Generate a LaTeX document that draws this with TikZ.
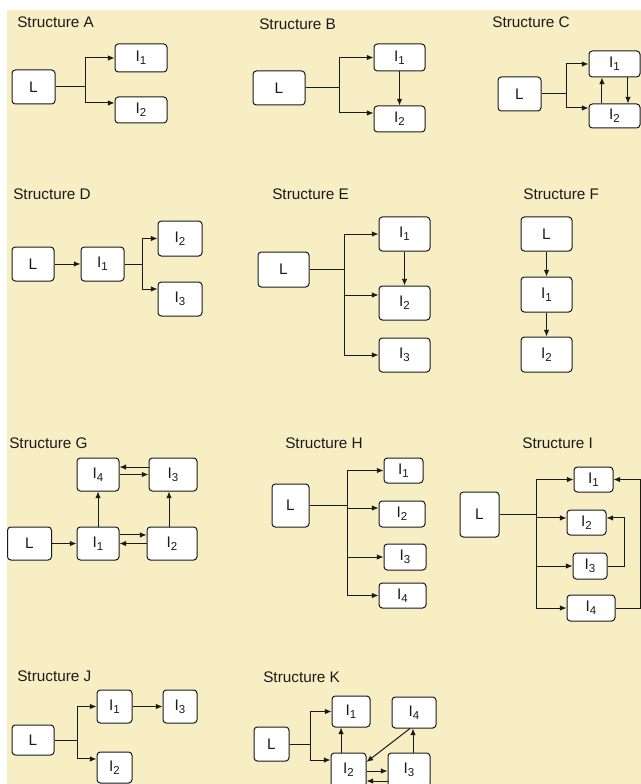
\documentclass[tikz,border=0pt]{standalone}
\usepackage{fontspec}
\setmainfont{Liberation Sans}
\usetikzlibrary{arrows.meta}
\definecolor{panel}{HTML}{F8EEC4}
\definecolor{ink}{HTML}{1A1A1A}
\newcommand\Isub[1]{I\raisebox{-0.35ex}{\fontsize{8.6}{9}\selectfont #1}}
\begin{document}
\begin{tikzpicture}[x=0.75pt,y=-0.75pt,
  every node/.style={font=\fontsize{11.5}{13}\selectfont, text=ink},
  box/.style={draw=ink, fill=white, rounded corners=2.5pt, line width=0.75pt, inner sep=0pt},
  bx/.style 2 args={box, minimum width=#1*0.75pt, minimum height=#2*0.75pt},
  ttl/.style={anchor=west, inner sep=0pt},
  arr/.style={draw=ink, line width=0.75pt, -{Latex[length=5pt,width=4.2pt]}},
  ln/.style={draw=ink, line width=0.75pt}]
\useasboundingbox (0,0) rectangle (641,784);
\clip (0,0) rectangle (641,784);
\fill[white] (0,0) rectangle (641,784);
\fill[panel] (7,10) rectangle (641,784);

% ---- Structure A
\node[ttl] (tA) at (17,22) {Structure A};
\node[bx={43}{34}] (aL) at (33.5,87) {L};
\node[bx={52}{28}] (a1) at (141,58) {\Isub1};
\node[bx={52}{26}] (a2) at (141,110) {\Isub2};
\coordinate (aJ) at (85,87);
\draw[ln] (aL.east) -- (aJ);
\draw[arr] (aJ) |- (a1.west);
\draw[arr] (aJ) |- ([yshift=5.25pt]a2.west);

% ---- Structure B
\node[ttl] (tB) at (259,24) {Structure B};
\node[bx={52}{34}] (bL) at (279,88) {L};
\node[bx={51}{27}] (b1) at (399.5,57.5) {\Isub1};
\node[bx={51}{26}] (b2) at (399.5,119) {\Isub2};
\coordinate (bJ) at (339,88);
\draw[ln] (bL.east) -- (bJ);
\draw[arr] (bJ) |- (b1.west);
\draw[arr] (bJ) |- ([yshift=4.5pt]b2.west);
\draw[arr] (b1.south) -- (b2.north);

% ---- Structure C
\node[ttl] (tC) at (492,22) {Structure C};
\node[bx={43}{34}] (cL) at (519.5,94) {L};
\node[bx={51}{26}] (c1) at (614.5,64) {\Isub1};
\node[bx={51}{24}] (c2) at (614.5,116) {\Isub2};
\coordinate (cJ) at (566,94);
\draw[ln] (cL.east) -- (cJ);
\draw[arr] (cJ) |- (c1.west);
\draw[arr] (cJ) |- ([yshift=6pt]c2.west);
\draw[arr] ([xshift=-9.4pt]c2.north) -- ([xshift=-9.4pt]c1.south);
\draw[arr] ([xshift=10.1pt]c1.south) -- ([xshift=10.1pt]c2.north);

% ---- Structure D
\node[ttl] (tD) at (13,194) {Structure D};
\node[bx={42}{34}] (dL) at (33,264) {L};
\node[bx={43}{34}] (d1) at (102.5,264) {\Isub1};
\node[bx={44}{35}] (d2) at (180,238.5) {\Isub2};
\node[bx={44}{34}] (d3) at (180,299) {\Isub3};
\coordinate (dJ) at (142,264);
\draw[arr] (dL.east) -- (d1.west);
\draw[ln] (d1.east) -- (dJ);
\draw[arr] (dJ) |- (d2.west);
\draw[arr] (dJ) |- ([yshift=7.5pt]d3.west);

% ---- Structure E
\node[ttl] (tE) at (272,194) {Structure E};
\node[bx={51}{35}] (eL) at (283.5,269.5) {L};
\node[bx={51}{34}] (e1) at (404.5,234) {\Isub1};
\node[bx={51}{34}] (e2) at (404.5,303) {\Isub2};
\node[bx={51}{34}] (e3) at (404.5,355) {\Isub3};
\coordinate (eJ) at (344,269.5);
\draw[ln] (eL.east) -- (eJ);
\draw[arr] (eJ) |- (e1.west);
\draw[arr] (eJ) |- ([yshift=6pt]e2.west);
\draw[arr] (eJ) |- (e3.west);
\draw[arr] (e1.south) -- (e2.north);

% ---- Structure F
\node[ttl] (tF) at (523,194) {Structure F};
\node[bx={51}{34}] (fL) at (546.5,234) {L};
\node[bx={51}{35}] (f1) at (546.5,294.5) {\Isub1};
\node[bx={51}{35}] (f2) at (546.5,354.5) {\Isub2};
\draw[arr] (fL.south) -- (f1.north);
\draw[arr] (f1.south) -- (f2.north);

% ---- Structure G
\node[ttl] (tG) at (9,443) {Structure G};
\node[bx={44}{33}] (gL) at (29.5,543.5) {L};
\node[bx={42}{33}] (g1) at (98,543.5) {\Isub1};
\node[bx={50}{33}] (g2) at (172,543.5) {\Isub2};
\node[bx={42}{33}] (g4) at (98,474.5) {\Isub4};
\node[bx={48}{33}] (g3) at (173,474.5) {\Isub3};
\draw[arr] (gL.east) -- (g1.west);
\draw[arr] ([yshift=6.4pt]g1.east) -- ([yshift=6.4pt]g2.west);
\draw[arr] (g2.west) -- (g1.east);
\draw[arr] (g4.east) -- (g3.west);
\draw[arr] ([yshift=5.6pt]g3.west) -- ([yshift=5.6pt]g4.east);
\draw[arr] (g1.north) -- (g4.south);
\draw[arr] ([xshift=-2.25pt]g2.north) -- ([xshift=-2.25pt]g2.north |- g3.south);

% ---- Structure H
\node[ttl] (tH) at (285,443) {Structure H};
\node[bx={37}{43}] (hL) at (290.5,505.5) {L};
\node[bx={39}{25}] (h1) at (403.5,470.5) {\Isub1};
\node[bx={46}{26}] (h2) at (402,514) {\Isub2};
\node[bx={42}{26}] (h3) at (405,557) {\Isub3};
\node[bx={47}{25}] (h4) at (402.5,595.5) {\Isub4};
\coordinate (hJ) at (347,505.5);
\draw[ln] (hL.east) -- (hJ);
\draw[arr] (hJ) |- (h1.west);
\draw[arr] (hJ) |- ([yshift=4.5pt]h2.west);
\draw[arr] (hJ) |- (h3.west);
\draw[arr] (hJ) |- (h4.west);

% ---- Structure I
\node[ttl] (tI) at (522,443) {Structure I};
\node[bx={39}{45}] (iL) at (479.5,514.5) {L};
\node[bx={39}{25}] (i1) at (593.5,479.5) {\Isub1};
\node[bx={39}{25}] (i2) at (586.5,522.5) {\Isub2};
\node[bx={34}{26}] (i3) at (590,566) {\Isub3};
\node[bx={48}{26}] (i4) at (591,608) {\Isub4};
\coordinate (iJ) at (536,514.5);
\draw[ln] (iL.east) -- (iJ);
\draw[arr] (iJ) |- (i1.west);
\draw[arr] (iJ) |- ([yshift=3.4pt]i2.west);
\draw[arr] (iJ) |- (i3.west);
\draw[arr] (iJ) |- (i4.west);
\draw[arr] (i4.east) -- ++(25,0) |- (i1.east);
\draw[arr] (i3.east) -- ++(17,0) |- ([yshift=3.4pt]i2.east);

% ---- Structure J
\node[ttl] (tJ) at (17,676) {Structure J};
\node[bx={42}{30}] (jL) at (33,740) {L};
\node[bx={35}{33}] (j1) at (114.5,706.5) {\Isub1};
\node[bx={34}{33}] (j3) at (180,706.5) {\Isub3};
\node[bx={35}{31}] (j2) at (114.5,767.5) {\Isub2};
\coordinate (jJ) at (77,740);
\draw[ln] (jL.east) -- (jJ);
\draw[arr] (jJ) |- (j1.west);
\draw[arr] (jJ) |- ([yshift=6.4pt]j2.west);
\draw[arr] (j1.east) -- (j3.west);

% ---- Structure K
\node[ttl] (tK) at (263,677) {Structure K};
\node[bx={35}{34}] (kL) at (271.5,744) {L};
\node[bx={38}{31}] (k1) at (351,711.5) {\Isub1};
\node[bx={44}{31}] (k4) at (414,712.5) {\Isub4};
\node[bx={35}{34}] (k2) at (348.5,770) {\Isub2};
\node[bx={42}{34}] (k3) at (409,770) {\Isub3};
\coordinate (kJ) at (310,744);
\draw[ln] (kL.east) -- (kJ);
\draw[arr] (kJ) |- (k1.west);
\draw[arr] (kJ) |- ([yshift=7.5pt]k2.west);
\draw[arr] ([xshift=-5.6pt]k2.north) -- ([xshift=-5.6pt]k2.north |- k1.south);
\draw[arr] ([xshift=3pt]k3.north) -- ([xshift=3pt]k3.north |- k4.south);
\draw[arr] ([xshift=-3pt]k4.south) -- ([yshift=6pt]k2.east);
\draw[arr] ([yshift=-0.75pt]k2.east) -- ([yshift=-0.75pt]k3.west);
\draw[arr] ([yshift=-8.25pt]k3.west) -- ([yshift=-8.25pt]k2.east);
\end{tikzpicture}
\end{document}
